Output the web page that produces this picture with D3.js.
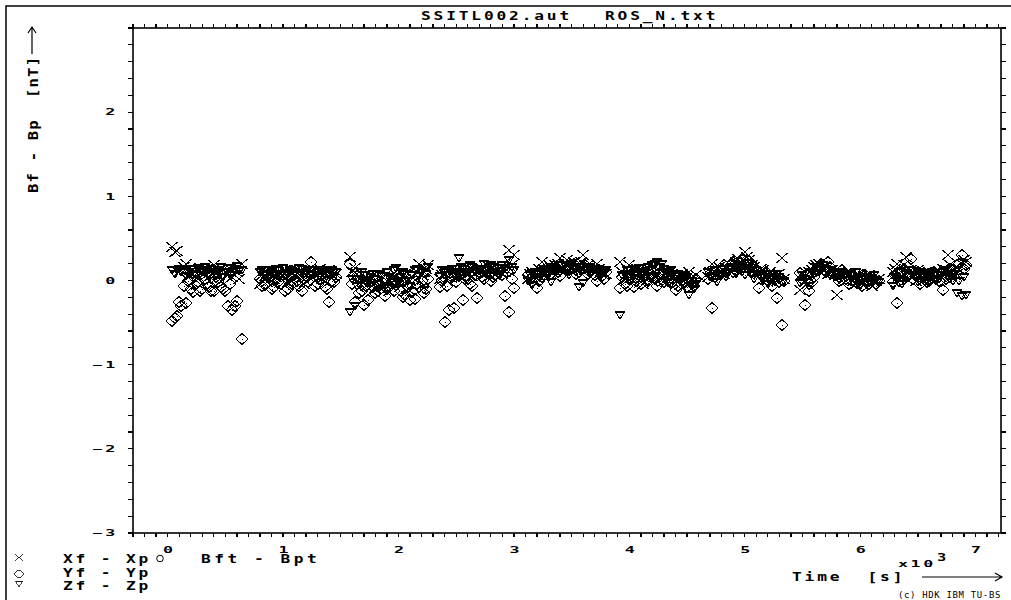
<!DOCTYPE html>
<html><head><meta charset="utf-8">
<script src="https://cdn.jsdelivr.net/npm/d3@7/dist/d3.min.js"></script>
<style>
html,body{margin:0;padding:0;background:#fff;}
svg{display:block;}
text{font-family:"DejaVu Sans Mono",monospace;font-weight:bold;fill:#000;}
</style></head>
<body>
<script>
// ---------------- data ----------------
const titleLeft = "SSITL002.aut";
const titleRight = "ROS_N.txt";
const yLabel = "Bf - Bp  [nT]";
const xLabel = "Time  [s]";
const xTickLabels = ["0","1","2","3","4","5","6","7"];
const xTickValues = [0,1,2,3,4,5,6,7];
const yTickLabels = ["\u22123","\u22122","\u22121","0","1","2"];
const yTickValues = [-3,-2,-1,0,1,2];
const legendLabels = ["Xf - Xp","Yf - Yp","Zf - Zp"];
const legendExtra = "Bft - Bpt";
const copyright = "(c) HDK IBM TU-BS";

// time in 10^3 s
const timeK = [
 0.04,0.08,0.12,0.16,0.20,0.24,0.28,0.32,0.36,0.40,0.44,0.48,0.52,0.56,0.60,0.64,
 0.80,0.84,0.88,0.92,0.96,1.00,1.04,1.08,1.12,1.16,1.20,1.24,1.28,1.32,1.36,1.40,1.44,
 1.58,1.62,1.66,1.70,1.74,1.78,1.82,1.86,1.90,1.94,1.98,2.02,2.06,2.10,2.14,2.18,2.22,2.26,
 2.36,2.40,2.44,2.48,2.52,2.56,2.60,2.64,2.68,2.72,2.76,2.80,2.84,2.88,2.92,2.96,3.00,
 3.12,3.16,3.20,3.24,3.28,3.32,3.36,3.40,3.44,3.48,3.52,3.56,3.60,3.64,3.68,3.72,3.76,3.80,
 3.92,3.96,4.00,4.04,4.08,4.12,4.16,4.20,4.24,4.28,4.32,4.36,4.40,4.44,4.48,4.52,4.56,
 4.68,4.72,4.76,4.80,4.84,4.88,4.92,4.96,5.00,5.04,5.08,5.12,5.16,5.20,5.24,5.28,5.32,
 5.48,5.52,5.56,5.60,5.64,5.68,5.72,5.76,5.80,5.84,5.88,5.92,5.96,6.00,6.04,6.08,6.12,6.16,
 6.28,6.32,6.36,6.40,6.44,6.48,6.52,6.56,6.60,6.64,6.68,6.72,6.76,6.80,6.84,6.88,6.92,
 0.06,0.10,0.14,0.18,0.22,0.26,0.30,0.34,0.38,0.42,0.46,0.50,0.54,0.58,0.62,
 0.82,0.86,0.90,0.94,0.98,1.02,1.06,1.10,1.14,1.18,1.22,1.26,1.30,1.34,1.38,1.42,1.46,
 1.60,1.64,1.68,1.72,1.76,1.80,1.84,1.88,1.92,1.96,2.00,2.04,2.08,2.12,2.16,2.20,2.24,
 2.38,2.42,2.46,2.50,2.54,2.58,2.62,2.66,2.70,2.74,2.78,2.82,2.86,2.90,2.94,2.98,
 3.14,3.18,3.22,3.26,3.30,3.34,3.38,3.42,3.46,3.50,3.54,3.58,3.62,3.66,3.70,3.74,3.78,
 3.94,3.98,4.02,4.06,4.10,4.14,4.18,4.22,4.26,4.30,4.34,4.38,4.42,4.46,4.50,4.54,4.58,
 4.70,4.74,4.78,4.82,4.86,4.90,4.94,4.98,5.02,5.06,5.10,5.14,5.18,5.22,5.26,5.30,5.34,
 5.50,5.54,5.58,5.62,5.66,5.70,5.74,5.78,5.82,5.86,5.90,5.94,5.98,6.02,6.06,6.10,6.14,
 6.30,6.34,6.38,6.42,6.46,6.50,6.54,6.58,6.62,6.66,6.70,6.74,6.78,6.82,6.86,6.90
];
// Xf - Xp  [nT]
const xDiff = [
 0.40,0.35,0.12,0.20,0.08,0.10,0.15,0.05,0.09,0.18,0.06,0.12,0.08,0.04,0.10,0.20,
 -0.04,0.05,0.08,0.02,0.10,0.06,-0.02,0.08,0.12,0.04,0.00,0.10,0.06,0.14,0.08,0.12,0.05,
 0.28,0.15,0.05,-0.02,0.02,-0.05,0.04,-0.08,0.00,-0.03,0.06,-0.06,0.02,0.00,0.08,0.20,0.10,0.18,
 0.02,0.08,0.04,0.10,0.06,0.12,0.08,0.05,0.10,0.14,0.09,0.12,0.07,0.15,0.10,0.36,0.30,
 0.02,0.10,0.06,0.22,0.12,0.15,0.18,0.27,0.20,0.16,0.22,0.14,0.30,0.18,0.12,0.20,0.10,0.08,
 0.22,0.05,0.18,0.02,0.10,-0.04,0.06,0.00,0.08,0.04,-0.02,0.06,0.02,-0.05,0.03,0.10,-0.02,
 0.04,0.20,0.08,0.12,0.15,0.10,0.22,0.18,0.34,0.24,0.16,0.08,0.12,0.02,0.06,0.00,0.27,
 -0.11,0.00,0.10,0.16,0.20,0.14,0.08,0.12,-0.17,0.06,0.00,0.08,-0.04,0.04,0.00,0.06,-0.02,0.02,
 0.10,0.20,0.05,0.28,0.12,0.00,0.08,0.04,0.10,-0.02,0.06,0.14,0.30,0.12,0.08,0.20,0.22,
 0.34,0.10,0.16,0.04,0.12,0.02,0.10,0.14,0.06,0.08,0.00,0.10,0.14,0.06,0.02,
 0.06,-0.02,0.10,0.04,0.08,0.12,0.02,0.06,0.10,-0.04,0.08,0.04,0.12,0.02,0.10,0.06,0.08,
 0.10,0.08,0.00,-0.06,0.04,-0.10,0.02,-0.04,-0.12,0.04,-0.02,0.06,-0.10,0.04,0.10,0.06,0.14,
 0.06,0.00,0.08,0.12,0.04,0.10,0.14,0.08,0.12,0.06,0.16,0.10,0.14,0.08,0.12,0.18,
 0.08,0.04,0.14,0.10,0.18,0.12,0.20,0.16,0.24,0.14,0.18,0.22,0.12,0.16,0.10,0.14,0.06,
 0.10,0.14,0.06,0.12,0.02,0.08,0.12,0.04,0.10,0.00,0.06,-0.02,0.04,0.08,-0.04,0.02,0.06,
 0.10,0.06,0.16,0.08,0.20,0.14,0.26,0.20,0.28,0.18,0.10,0.14,0.06,0.10,0.04,0.08,0.02,
 0.06,-0.04,0.12,0.18,0.10,0.16,0.12,0.06,0.10,0.02,0.06,0.00,0.08,-0.04,0.04,-0.06,0.00,
 0.14,0.06,0.18,0.10,0.04,0.12,0.00,0.08,0.02,0.10,0.04,0.12,0.18,0.06,0.14,0.24
];
// Yf - Yp  [nT]
const yDiff = [
 -0.48,-0.42,-0.30,-0.27,-0.10,-0.05,-0.12,0.02,-0.08,-0.12,-0.02,-0.10,-0.30,-0.35,-0.24,-0.70,
 0.02,-0.05,0.04,-0.08,-0.02,0.06,-0.10,-0.04,0.00,-0.12,0.05,0.22,-0.06,0.02,-0.08,-0.25,-0.02,
 0.20,-0.25,-0.15,-0.29,-0.23,-0.08,-0.12,-0.02,-0.10,0.00,-0.05,-0.13,-0.17,-0.23,-0.22,-0.08,-0.15,0.02,
 -0.08,-0.49,-0.35,-0.33,0.05,-0.23,0.02,-0.06,-0.21,0.04,0.10,0.00,0.06,0.12,-0.19,-0.37,-0.09,
 0.06,-0.02,-0.09,0.04,0.10,0.08,0.14,0.05,0.16,0.12,0.20,0.10,0.15,0.08,0.12,0.00,0.05,0.10,
 -0.09,-0.04,0.02,-0.08,0.06,0.10,0.00,0.04,-0.06,0.08,0.02,-0.03,-0.11,0.05,-0.02,0.00,-0.07,
 0.02,-0.33,0.06,0.14,0.10,0.18,0.12,0.22,0.20,0.14,0.16,-0.09,0.04,0.00,-0.07,-0.21,-0.53,
 0.09,-0.29,-0.13,0.04,0.12,0.18,0.22,0.10,0.06,0.12,0.02,0.08,-0.02,0.04,0.06,-0.04,0.02,0.00,
 -0.02,-0.27,0.10,0.04,0.26,0.08,-0.04,0.06,0.02,0.10,0.00,-0.11,0.06,0.12,0.09,0.30,0.18,
 -0.44,-0.25,-0.06,0.00,-0.14,-0.02,-0.10,-0.04,-0.12,0.04,-0.08,-0.13,-0.04,-0.30,0.16,
 -0.06,0.06,-0.10,0.02,-0.04,-0.12,0.04,0.08,-0.06,0.02,-0.02,0.10,-0.04,0.06,-0.10,0.00,0.04,
 -0.04,0.05,-0.12,-0.06,0.00,-0.15,-0.05,-0.18,-0.08,-0.12,-0.02,-0.20,-0.08,-0.14,-0.04,0.00,-0.10,
 0.00,-0.06,0.04,-0.02,0.08,0.02,-0.04,0.06,0.10,0.02,0.08,0.04,0.14,0.06,0.10,0.02,
 0.02,0.08,0.00,0.12,0.06,0.14,0.10,0.18,0.12,0.16,0.08,0.14,0.18,0.10,0.06,0.12,0.02,
 0.04,-0.06,0.08,0.00,-0.04,0.06,0.12,0.02,0.08,-0.02,0.06,0.02,-0.06,0.00,-0.08,-0.04,0.02,
 0.08,0.04,0.10,0.18,0.14,0.22,0.16,0.26,0.24,0.20,0.12,0.06,0.10,0.02,0.04,-0.02,0.00,
 0.02,0.08,-0.02,0.14,0.20,0.10,0.16,0.06,0.00,0.08,-0.04,0.06,0.02,-0.06,0.00,0.04,-0.04,
 0.06,0.00,0.14,0.08,0.02,0.10,0.04,-0.02,0.08,0.04,0.10,0.02,0.14,0.06,0.20,0.14
];
// Zf - Zp  [nT]
const zDiff = [
 0.12,0.13,0.10,0.05,0.14,0.08,0.12,0.16,0.06,0.10,0.13,0.04,0.15,0.10,0.17,0.12,
 0.10,0.08,0.13,0.06,0.12,0.15,0.09,0.11,0.07,0.14,0.10,0.08,0.13,0.05,0.11,0.09,0.04,
 -0.37,-0.30,0.02,0.06,0.00,0.08,-0.04,0.05,0.10,0.02,0.15,0.04,0.08,-0.06,0.12,0.05,-0.11,0.16,
 0.05,0.10,0.12,0.08,0.27,0.14,0.10,0.16,0.12,0.08,0.14,0.18,0.10,0.06,0.15,0.24,0.12,
 0.00,-0.05,0.08,0.02,0.12,-0.02,0.15,0.10,0.18,0.06,0.14,-0.08,-0.03,0.16,0.10,0.14,0.08,0.12,
 -0.41,0.08,0.04,0.12,0.15,0.10,0.16,0.18,0.22,0.20,0.08,0.12,0.05,0.00,0.06,-0.17,-0.10,
 0.10,0.05,-0.02,0.08,0.04,0.16,0.08,0.12,0.06,0.10,0.02,0.06,0.00,-0.04,0.03,0.08,-0.02,
 -0.03,0.02,-0.06,0.08,0.14,0.18,0.12,0.08,0.04,0.10,0.06,0.02,0.10,-0.05,0.04,0.00,0.06,-0.02,
 -0.07,0.02,-0.04,0.08,0.12,0.04,0.10,-0.02,0.06,0.08,0.02,0.10,0.04,0.00,-0.15,-0.18,-0.17,
 0.08,0.14,0.12,0.10,0.06,0.15,0.10,0.12,0.14,0.08,0.16,0.10,0.06,0.14,0.11,
 0.12,0.06,0.10,0.14,0.08,0.06,0.12,0.10,0.15,0.08,0.12,0.06,0.10,0.12,0.08,0.13,0.10,
 0.02,-0.06,0.10,-0.02,0.04,0.02,0.08,-0.06,0.04,0.12,-0.02,0.10,0.00,0.06,0.14,0.10,0.08,
 0.12,0.06,0.14,0.10,0.16,0.08,0.18,0.10,0.14,0.20,0.12,0.16,0.08,0.18,0.12,0.16,
 0.06,0.10,0.04,0.14,0.08,0.16,0.12,0.18,0.14,0.20,0.10,0.16,0.12,0.08,0.14,0.06,0.10,
 0.06,0.12,0.08,0.14,0.06,0.10,0.12,0.20,0.16,0.14,0.10,0.06,0.08,0.02,0.04,0.00,-0.04,
 0.04,0.12,0.06,0.14,0.10,0.08,0.16,0.10,0.14,0.08,0.12,0.04,0.08,0.02,-0.02,0.04,0.00,
 0.06,-0.02,0.10,0.16,0.12,0.14,0.06,0.10,0.02,0.06,0.08,-0.02,0.04,0.02,-0.04,0.02,-0.06,
 0.04,0.10,0.00,0.12,0.06,-0.02,0.08,0.04,0.10,0.00,0.06,0.12,0.02,0.08,0.00,0.04
];

// ---------------- layout ----------------
const W = 1011, H = 600;
const L = 133, R = 1001, T = 28, B = 533;

const svg = d3.select("body").append("svg").attr("width", W).attr("height", H);

const x = d3.scaleLinear().domain([-0.3, 7.22]).range([L, R]);
const y = d3.scaleLinear().domain([-3, 3]).range([B, T]);

// outer frame
svg.append("rect").attr("x", 6).attr("y", 6).attr("width", W).attr("height", H)
  .attr("fill", "none").attr("stroke", "#000").attr("stroke-width", 1.5);

// plot frame
svg.append("rect").attr("x", L).attr("y", T).attr("width", R - L).attr("height", B - T)
  .attr("fill", "none").attr("stroke", "#000").attr("stroke-width", 1.6);

// minor ticks
const xMinor = d3.range(-3, 73).map(i => i / 10);
const yMinor = d3.range(-15, 16).map(i => i / 5);
const tickG = svg.append("g").attr("stroke", "#000").attr("stroke-width", 1.3).attr("shape-rendering", "crispEdges");
tickG.selectAll(".tb").data(xMinor).join("line")
  .attr("x1", d => x(d)).attr("x2", d => x(d)).attr("y1", B).attr("y2", B + 4);
tickG.selectAll(".tt").data(xMinor).join("line")
  .attr("x1", d => x(d)).attr("x2", d => x(d)).attr("y1", T).attr("y2", T - 4);
tickG.selectAll(".tl").data(yMinor).join("line")
  .attr("x1", L).attr("x2", L - 5).attr("y1", d => y(d)).attr("y2", d => y(d));
tickG.selectAll(".tr").data(yMinor).join("line")
  .attr("x1", R).attr("x2", R + 5).attr("y1", d => y(d)).attr("y2", d => y(d));

// helper: stretched bitmap-like text
function label(txt, px, py, opts) {
  const o = Object.assign({size: 12, sx: 1.35, sy: 1, ls: 2.1, anchor: "start", rot: 0}, opts || {});
  const g = svg.append("g").attr("transform",
    `translate(${px},${py}) rotate(${o.rot}) scale(${o.sx},${o.sy})`);
  g.append("text").attr("x", 0).attr("y", 0)
    .attr("font-size", o.size).attr("letter-spacing", o.ls)
    .attr("text-anchor", o.anchor).attr("xml:space", "preserve")
    .style("white-space", "pre").text(txt);
  return g;
}

// tick labels (small wide font)
xTickValues.forEach((v, i) => {
  label(xTickLabels[i], x(v) + 0.5, 552.5, {size: 9, sx: 1.85, ls: 0, anchor: "middle"});
});
yTickValues.forEach((v, i) => {
  label(yTickLabels[i], 118, y(v) + 3.3, {size: 9, sx: 1.85, ls: 1.5, anchor: "end"});
});

// title
label(titleLeft, 421, 20);
label(titleRight, 605, 20);

// y label rotated
label(yLabel, 37.5, 193, {rot: -90, sx: 1.3, sy: 1.15, ls: 0.9});
// y arrow
svg.append("path").attr("d", "M32,54 L32,28 M28,33 L32,27 L36,33")
  .attr("fill", "none").attr("stroke", "#000").attr("stroke-width", 1.2);

// legend
const legY = [562.5, 576.5, 590];
legendLabels.forEach((t, i) => label(t, 63, legY[i]));
label(legendExtra, 201, legY[0], {ls: 2.6});
svg.append("circle").attr("cx", 160).attr("cy", 558.5).attr("r", 3.3)
  .attr("fill", "none").attr("stroke", "#000").attr("stroke-width", 1);

// x label block
label("x10", 898, 567, {size: 9, sx: 1.85, ls: 1.4});
label("3", 937, 560.5, {size: 11, sx: 1.4, ls: 0});
label(xLabel, 792, 580.5);
svg.append("path").attr("d", "M922,577 L1002,577 M995,573 L1002,577 L995,581")
  .attr("fill", "none").attr("stroke", "#000").attr("stroke-width", 1.2);
svg.append("g").attr("transform", "translate(898,598) scale(1.12,1)")
  .append("text").attr("font-size", 8).style("font-weight", "normal")
  .attr("letter-spacing", 0.6).text(copyright);

// ---------------- markers ----------------
const symX = "M-5.5,-5L5.5,5M-5.5,5L5.5,-5";
const symD = "M0,-5.5L6,0L0,5.5L-6,0Z";
const symT = "M-5,-4L5,-4L0,4Z M-4.5,-3L4.5,-3";

function drawSeries(vals, path, dot) {
  const g = svg.append("g").attr("fill", "none").attr("stroke", "#000")
    .attr("stroke-width", 1).attr("shape-rendering", "crispEdges");
  const pts = g.selectAll("g").data(timeK.map((t, i) => [t, vals[i]])).join("g")
    .attr("transform", d => `translate(${Math.round(x(d[0]))},${Math.round(y(d[1]))})`);
  pts.append("path").attr("d", path);
  if (dot) pts.append("rect").attr("x", -0.5).attr("y", -0.5).attr("width", 1.5).attr("height", 1.5)
    .attr("fill", "#000").attr("stroke", "none");
}
drawSeries(yDiff, symD, true);
drawSeries(zDiff, symT, true);
drawSeries(xDiff, symX, false);

// legend symbols
const lg = svg.append("g").attr("fill", "none").attr("stroke", "#000").attr("stroke-width", 1)
  .attr("shape-rendering", "crispEdges");
lg.append("path").attr("transform", "translate(19,557.5) scale(0.75)").attr("d", symX);
lg.append("path").attr("transform", "translate(19,574) scale(0.8)").attr("d", symD);
lg.append("path").attr("transform", "translate(19,584) scale(0.7)").attr("d", symT);
</script>
</body></html>
